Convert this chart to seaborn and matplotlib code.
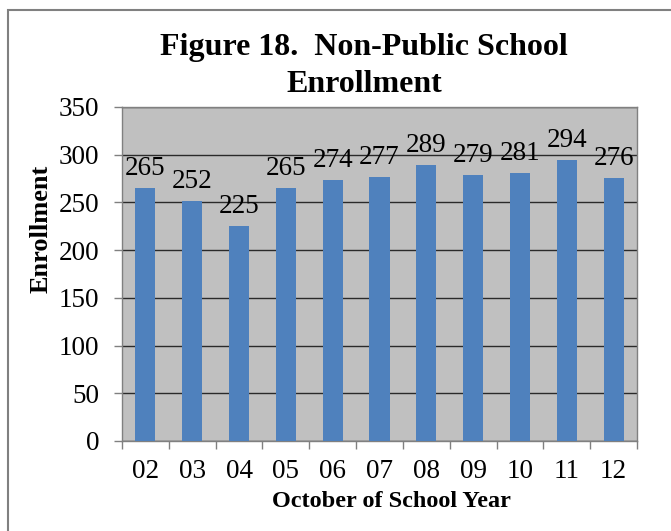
import matplotlib
matplotlib.use("Agg")
import matplotlib.pyplot as plt
import seaborn as sns
import pandas as pd
from matplotlib.patches import Rectangle

years = ["02", "03", "04", "05", "06", "07", "08", "09", "10", "11", "12"]
enrollment = [265, 252, 225, 265, 274, 277, 289, 279, 281, 294, 276]
y_ticks = [0, 50, 100, 150, 200, 250, 300, 350]
title_lines = ["Figure 18.  Non-Public School", "Enrollment"]

sns.set_theme(style="white")
plt.rcParams['font.family'] = ['Liberation Serif', 'DejaVu Serif']
plt.rcParams['text.color'] = 'black'
plt.rcParams['axes.labelcolor'] = 'black'
plt.rcParams['xtick.color'] = 'black'
plt.rcParams['ytick.color'] = 'black'

df = pd.DataFrame({"year": years, "enrollment": enrollment})

fig = plt.figure(figsize=(6.71, 5.31), dpi=100)
ax = fig.add_axes([122/671, 1 - 441/531, (637-122)/671, (441-107)/531])
ax.set_facecolor("#C0C0C0")

sns.barplot(data=df, x="year", y="enrollment", color="#4F81BD", width=0.43,
            saturation=1, ax=ax, zorder=3, linewidth=0, edgecolor="none")

ax.set_ylim(0, 350)
ax.set_xlim(-0.5, len(years) - 0.5)
ax.set_yticks(y_ticks)
ax.yaxis.grid(True, color="#2a2a2a", linewidth=1, zorder=1)
ax.set_axisbelow(True)

for i, v in enumerate(enrollment):
    ax.annotate(str(v), (i, v), xytext=(0, 5), textcoords="offset points",
                ha="center", va="bottom", fontsize=19.5, color="black")

ax.tick_params(axis="y", which="major", length=5.5, width=1, color="#808080",
               labelsize=19.5, labelcolor="black", direction="out", left=True, pad=11)
ax.tick_params(axis="x", which="major", length=0, labelsize=19.5,
               labelcolor="black", pad=13)
ax.set_xticks([i - 0.5 for i in range(len(years) + 1)], minor=True)
ax.tick_params(axis="x", which="minor", length=5.5, width=1, color="#808080",
               direction="out", bottom=True)

for s in ax.spines.values():
    s.set_color("#808080")
    s.set_linewidth(1)
    s.set_visible(True)

fig.text(364/671, 1 - 47/531, title_lines[0], fontsize=23, fontweight="bold",
         ha="center", va="center", color="black")
fig.text(364/671, 1 - 85/531, title_lines[1], fontsize=23, fontweight="bold",
         ha="center", va="center", color="black")

ax.set_xlabel("October of School Year", fontsize=17.5, fontweight="bold",
              labelpad=5, color="black")
ax.xaxis.label.set_x(0.524)
ax.set_ylabel("Enrollment", fontsize=19, fontweight="bold", color="black",
              va="center")
ax.yaxis.set_label_coords((41 - 122) / 515, (441 - 229) / 334)

fig.patches.append(Rectangle((8/671, -0.05), 1.0, 1 - 10/531 + 0.05,
                             transform=fig.transFigure, fill=False,
                             edgecolor="#808080", linewidth=1.5))

fig.savefig("out.png", dpi=100)
